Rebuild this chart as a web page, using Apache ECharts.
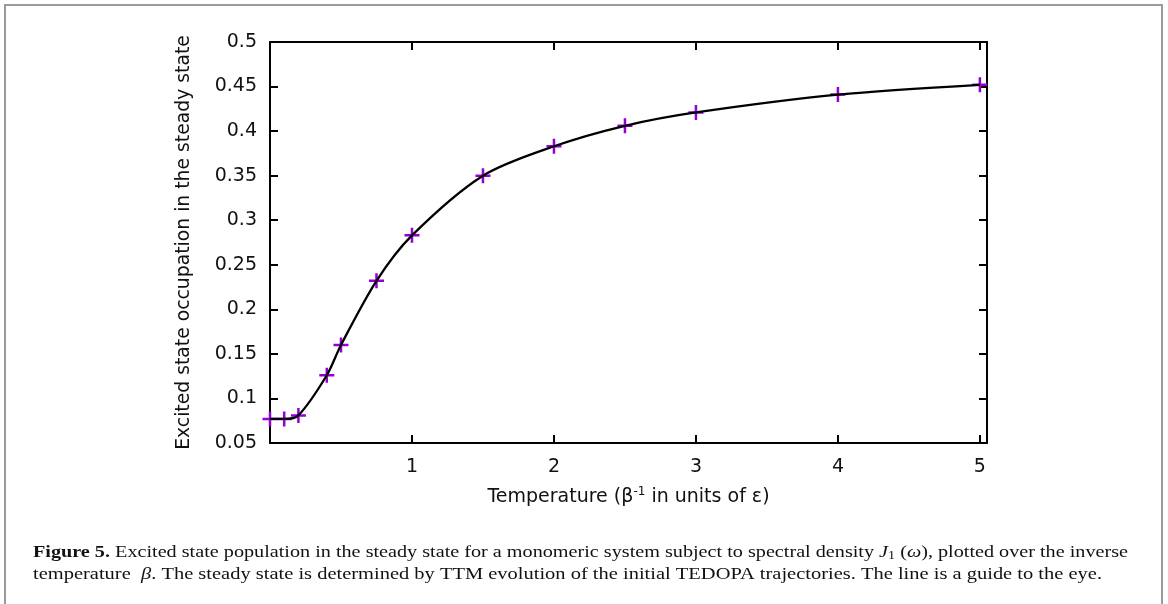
<!DOCTYPE html>
<html>
<head>
<meta charset="utf-8">
<style>
html,body{margin:0;padding:0;background:#fff;}
#chart{width:1168px;height:604px;}
</style>
<script src="https://cdn.jsdelivr.net/npm/echarts@6/dist/echarts.min.js"></script>
</head>
<body>
<div id="chart"></div>
<script>
// ---- data ----
const temperature = [0, 0.1, 0.2, 0.4, 0.5, 0.75, 1, 1.5, 2, 2.5, 3, 4, 5];
const occupation  = [0.077, 0.077, 0.081, 0.126, 0.160, 0.232, 0.283, 0.350, 0.383, 0.406, 0.421, 0.441, 0.452];
const xTicks = [1, 2, 3, 4, 5];
const yTicks = [0.05, 0.1, 0.15, 0.2, 0.25, 0.3, 0.35, 0.4, 0.45, 0.5];
const xTitle = 'Temperature (β{sup|-1} in units of ε)';
const yTitle = 'Excited state occupation in the steady state';
const captionLine1 = '{b|Figure 5.} Excited state population in the steady state for a monomeric system subject to spectral density {i|J}{sub|1} ({i|ω}), plotted over the inverse';
const captionLine2 = 'temperature  {i|β}. The steady state is determined by TTM evolution of the initial TEDOPA trajectories. The line is a guide to the eye.';

const points = temperature.map((t, i) => [t, occupation[i]]);

const chart = echarts.init(document.getElementById('chart'), null, {renderer: 'canvas'});

const sansFont = 'DejaVu Sans';
const serif = 'Liberation Serif';
const capSize = 16.5;
const fs = 19;

const capRich = {
  b: {fontFamily: serif, fontWeight: 'bold', fontSize: capSize, fill: '#111'},
  i: {fontFamily: serif, fontStyle: 'italic', fontSize: capSize, fill: '#111'},
  sub: {fontFamily: serif, fontSize: capSize * 0.7, fill: '#111', padding: [6, 0, 0, 0]}
};

const axisLineStyle = {color: '#000', width: 2};
const tickStyle = {color: '#000', width: 2};

const plusPath = 'path://M6.25,0H8.75V6.25H15V8.75H8.75V15H6.25V8.75H0V6.25H6.25Z';

function captionGraphic(sx1, sx2) {
  return [{
    id: 'frame',
    type: 'polyline',
    shape: {points: [[5, 604], [5, 5], [1162, 5], [1162, 604]]},
    style: {stroke: '#9a9a9a', lineWidth: 2, fill: null},
    silent: true
  }, {
    id: 'cap1', name: 'cap1',
    type: 'text',
    x: 33, y: 553, scaleX: sx1, originX: 0,
    style: {
      text: captionLine1,
      fontFamily: serif, fontSize: capSize, fill: '#111',
      verticalAlign: 'middle',
      rich: capRich
    },
    silent: true
  }, {
    id: 'cap2', name: 'cap2',
    type: 'text',
    x: 33, y: 575, scaleX: sx2, originX: 0,
    style: {
      text: captionLine2,
      fontFamily: serif, fontSize: capSize, fill: '#111',
      verticalAlign: 'middle',
      rich: capRich
    },
    silent: true
  }];
}

chart.setOption({
  animation: false,
  backgroundColor: '#fff',
  grid: {left: 270, right: 181, top: 42, bottom: 161, containLabel: false},
  xAxis: [{
    type: 'value', min: 0, max: 5.05,
    position: 'bottom',
    name: xTitle,
    nameLocation: 'middle',
    nameGap: 43,
    nameTextStyle: {fontFamily: sansFont, fontSize: fs, color: '#111',
      rich: {sup: {fontFamily: sansFont, fontSize: 12, color: '#111', padding: [0, 0, 10, 0]}}},
    axisLine: {show: true, onZero: false, lineStyle: axisLineStyle},
    axisTick: {show: true, inside: true, length: 8, lineStyle: tickStyle, customValues: xTicks},
    axisLabel: {show: true, margin: 15, fontFamily: sansFont, fontSize: fs, color: '#111', customValues: xTicks},
    splitLine: {show: false}
  }, {
    type: 'value', min: 0, max: 5.05,
    position: 'top',
    axisLine: {show: true, onZero: false, lineStyle: axisLineStyle},
    axisTick: {show: true, inside: true, length: 8, lineStyle: tickStyle, customValues: xTicks},
    axisLabel: {show: false},
    splitLine: {show: false}
  }],
  yAxis: [{
    type: 'value', min: 0.05, max: 0.5, interval: 0.05,
    position: 'left',
    name: yTitle,
    nameLocation: 'middle',
    nameGap: 76,
    nameTextStyle: {fontFamily: sansFont, fontSize: 18.8, color: '#111', padding: [0, 0, 0, 0]},
    axisLine: {show: true, onZero: false, lineStyle: axisLineStyle},
    axisTick: {show: true, inside: true, length: 8, lineStyle: tickStyle, customValues: yTicks},
    axisLabel: {show: true, margin: 13, fontFamily: sansFont, fontSize: fs, color: '#111', customValues: yTicks,
      formatter: v => String(+(+v).toFixed(2))},
    splitLine: {show: false}
  }, {
    type: 'value', min: 0.05, max: 0.5, interval: 0.05,
    position: 'right',
    axisLine: {show: true, onZero: false, lineStyle: axisLineStyle},
    axisTick: {show: true, inside: true, length: 8, lineStyle: tickStyle, customValues: yTicks},
    axisLabel: {show: false},
    splitLine: {show: false}
  }],
  series: [{
    type: 'scatter',
    data: points,
    symbol: plusPath,
    symbolSize: 15,
    itemStyle: {color: '#9400d3', opacity: 1},
    z: 2
  }, {
    type: 'line',
    data: points,
    smooth: 0.3,
    showSymbol: false,
    symbol: 'none',
    lineStyle: {color: '#000', width: 2.3},
    z: 3
  }],
  graphic: captionGraphic(1, 1)
});

// condense the caption lines to the reference's widths
function findByName(name) {
  let found = null;
  chart.getZr().storage.getRoots().forEach(r => {
    if (found) return;
    if (r.name === name) { found = r; return; }
    if (r.traverse) r.traverse(el => { if (!found && el.name === name) found = el; });
  });
  return found;
}
const e1 = findByName('cap1'), e2 = findByName('cap2');
let s1 = 1, s2 = 1;
if (e1 && e1.getBoundingRect) { const w = e1.getBoundingRect().width; if (w > 0) s1 = 1095 / w; }
if (e2 && e2.getBoundingRect) { const w = e2.getBoundingRect().width; if (w > 0) s2 = 1069 / w; }
chart.setOption({graphic: captionGraphic(s1, s2)});
</script>
</body>
</html>
